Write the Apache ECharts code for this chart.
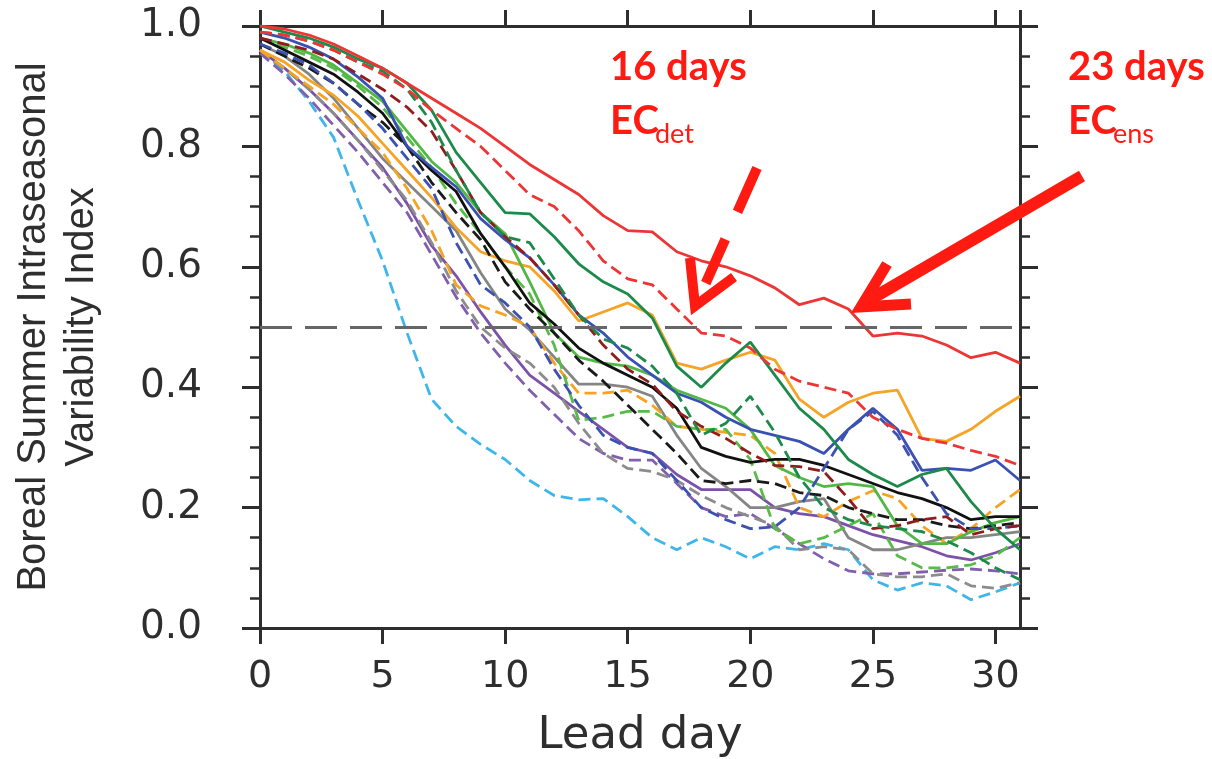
<!DOCTYPE html>
<html>
<head>
<meta charset="utf-8">
<script src="https://cdn.jsdelivr.net/npm/echarts@6/dist/echarts.min.js"></script>
<style>
  html, body { margin: 0; padding: 0; background: #fff; }
  #chart { width: 1212px; height: 759px; }
</style>
</head>
<body>
<div id="chart"></div>
<script>
/********** 数据 **********/
var leadDays = [0, 1, 2, 3, 4, 5, 6, 7, 8, 9, 10, 11, 12, 13, 14, 15,
                16, 17, 18, 19, 20, 21, 22, 23, 24, 25, 26, 27, 28, 29, 30, 31];

var yTicks = [0.0, 0.2, 0.4, 0.6, 0.8, 1.0];
var xTicks = [0, 5, 10, 15, 20, 25, 30];
var threshold = 0.5;

var ecEns = [1.0, 0.995, 0.985, 0.97, 0.95, 0.93, 0.905, 0.88, 0.855, 0.83, 0.80, 0.77, 0.745, 0.72, 0.685, 0.66,
             0.658, 0.625, 0.61, 0.60, 0.585, 0.565, 0.537, 0.548, 0.53, 0.485, 0.49, 0.485, 0.47, 0.449, 0.458, 0.44];
var ecDet = [0.99, 0.985, 0.975, 0.96, 0.94, 0.92, 0.895, 0.86, 0.83, 0.80, 0.76, 0.72, 0.70, 0.66, 0.61, 0.58,
             0.57, 0.53, 0.49, 0.485, 0.465, 0.43, 0.41, 0.40, 0.39, 0.35, 0.33, 0.315, 0.307, 0.295, 0.285, 0.27];
var dkGreenEns = [1.0, 0.99, 0.98, 0.965, 0.945, 0.93, 0.905, 0.86, 0.79, 0.74, 0.69, 0.688, 0.65, 0.605, 0.575, 0.555,
                  0.515, 0.435, 0.40, 0.44, 0.475, 0.42, 0.365, 0.33, 0.28, 0.255, 0.235, 0.255, 0.265, 0.21, 0.165, 0.13];
var dkGreenDet = [0.99, 0.985, 0.975, 0.96, 0.94, 0.925, 0.895, 0.84, 0.76, 0.69, 0.65, 0.64, 0.58, 0.52, 0.48, 0.465,
                  0.435, 0.39, 0.32, 0.34, 0.385, 0.325, 0.25, 0.2, 0.18, 0.17, 0.165, 0.16, 0.145, 0.125, 0.1, 0.08];
var brownDet = [0.98, 0.97, 0.96, 0.945, 0.92, 0.895, 0.865, 0.825, 0.76, 0.69, 0.65, 0.615, 0.57, 0.52, 0.47, 0.43,
                0.405, 0.36, 0.335, 0.315, 0.29, 0.27, 0.268, 0.26, 0.215, 0.165, 0.17, 0.18, 0.185, 0.155, 0.165, 0.17];
var blueEns = [0.99, 0.98, 0.965, 0.945, 0.915, 0.88, 0.80, 0.765, 0.733, 0.68, 0.645, 0.615, 0.57, 0.52, 0.49, 0.45,
               0.42, 0.39, 0.375, 0.35, 0.33, 0.32, 0.31, 0.29, 0.33, 0.365, 0.33, 0.262, 0.265, 0.262, 0.279, 0.245];
var blueDet = [0.97, 0.955, 0.935, 0.905, 0.87, 0.83, 0.78, 0.73, 0.64, 0.57, 0.54, 0.50, 0.43, 0.37, 0.32, 0.30,
               0.29, 0.245, 0.20, 0.18, 0.165, 0.168, 0.20, 0.265, 0.33, 0.36, 0.32, 0.25, 0.19, 0.165, 0.165, 0.17];
var blackEns = [0.98, 0.96, 0.94, 0.92, 0.89, 0.855, 0.80, 0.76, 0.725, 0.655, 0.60, 0.54, 0.505, 0.465, 0.44, 0.42,
                0.40, 0.365, 0.30, 0.285, 0.275, 0.28, 0.28, 0.27, 0.255, 0.24, 0.225, 0.215, 0.20, 0.18, 0.185, 0.185];
var blackDet = [0.97, 0.95, 0.93, 0.905, 0.87, 0.84, 0.80, 0.74, 0.69, 0.645, 0.575, 0.53, 0.49, 0.445, 0.41, 0.37,
                0.33, 0.29, 0.245, 0.24, 0.245, 0.24, 0.225, 0.22, 0.20, 0.19, 0.18, 0.18, 0.17, 0.165, 0.17, 0.175];
var orangeEns = [0.96, 0.94, 0.91, 0.885, 0.85, 0.805, 0.76, 0.715, 0.665, 0.625, 0.61, 0.60, 0.56, 0.51, 0.525, 0.54,
                 0.52, 0.44, 0.43, 0.445, 0.458, 0.445, 0.38, 0.35, 0.375, 0.39, 0.395, 0.315, 0.31, 0.33, 0.36, 0.385];
var orangeDet = [0.96, 0.93, 0.90, 0.87, 0.83, 0.79, 0.73, 0.66, 0.57, 0.535, 0.52, 0.50, 0.44, 0.39, 0.39, 0.395,
                 0.37, 0.335, 0.33, 0.325, 0.32, 0.29, 0.20, 0.185, 0.21, 0.228, 0.215, 0.17, 0.14, 0.165, 0.20, 0.23];
var greenEns = [0.98, 0.97, 0.955, 0.935, 0.905, 0.875, 0.825, 0.775, 0.74, 0.69, 0.655, 0.575, 0.49, 0.45, 0.44, 0.435,
                0.42, 0.395, 0.38, 0.365, 0.33, 0.27, 0.25, 0.235, 0.24, 0.235, 0.17, 0.14, 0.14, 0.16, 0.175, 0.185];
var greenDet = [0.98, 0.965, 0.95, 0.93, 0.90, 0.865, 0.815, 0.765, 0.705, 0.655, 0.60, 0.555, 0.47, 0.345, 0.35, 0.36,
                0.36, 0.335, 0.33, 0.33, 0.28, 0.165, 0.14, 0.15, 0.17, 0.19, 0.12, 0.10, 0.10, 0.105, 0.12, 0.15];
var grayEns = [0.97, 0.95, 0.92, 0.88, 0.83, 0.78, 0.74, 0.70, 0.66, 0.59, 0.53, 0.495, 0.45, 0.405, 0.405, 0.40,
               0.385, 0.32, 0.265, 0.235, 0.20, 0.20, 0.21, 0.215, 0.15, 0.13, 0.13, 0.14, 0.15, 0.15, 0.155, 0.16];
var grayDet = [0.96, 0.93, 0.895, 0.855, 0.81, 0.76, 0.71, 0.64, 0.56, 0.50, 0.465, 0.44, 0.40, 0.34, 0.29, 0.265,
               0.26, 0.245, 0.22, 0.20, 0.185, 0.17, 0.13, 0.135, 0.13, 0.09, 0.085, 0.085, 0.09, 0.07, 0.066, 0.075];
var purpleEns = [0.96, 0.93, 0.895, 0.855, 0.81, 0.765, 0.705, 0.635, 0.585, 0.525, 0.47, 0.42, 0.39, 0.36, 0.33, 0.30,
                 0.29, 0.255, 0.23, 0.23, 0.23, 0.20, 0.19, 0.185, 0.17, 0.155, 0.145, 0.135, 0.12, 0.113, 0.125, 0.14];
var purpleDet = [0.955, 0.92, 0.88, 0.835, 0.79, 0.74, 0.69, 0.62, 0.55, 0.49, 0.44, 0.395, 0.355, 0.315, 0.29, 0.279,
                 0.279, 0.24, 0.20, 0.185, 0.19, 0.165, 0.14, 0.115, 0.095, 0.09, 0.09, 0.093, 0.096, 0.098, 0.095, 0.09];
var cyanDet = [0.96, 0.925, 0.875, 0.815, 0.71, 0.61, 0.49, 0.38, 0.335, 0.305, 0.28, 0.245, 0.22, 0.213, 0.215, 0.185,
               0.15, 0.13, 0.15, 0.135, 0.115, 0.135, 0.13, 0.14, 0.13, 0.08, 0.063, 0.075, 0.07, 0.047, 0.06, 0.075];

// 线条: [数据, 颜色, 虚线?]
var lines = [
  [cyanDet, '#3fb6ea', true],
  [purpleDet, '#8060ad', true],
  [purpleEns, '#7c52a8', false],
  [grayDet, '#8c8c8c', true],
  [grayEns, '#858585', false],
  [orangeDet, '#f6a323', true],
  [orangeEns, '#f5a426', false],
  [greenDet, '#58bb48', true],
  [greenEns, '#52b845', false],
  [blackDet, '#1a1a1a', true],
  [blackEns, '#111111', false],
  [blueDet, '#3c52b0', true],
  [blueEns, '#3a50b3', false],
  [brownDet, '#8f1d1d', true],
  [dkGreenDet, '#1d8a4c', true],
  [dkGreenEns, '#1b8a4a', false],
  [ecDet, '#ee3535', true],
  [ecEns, '#ee3535', false]
];

/********** 图表 **********/
var myChart = echarts.init(document.getElementById('chart'));

var axisColor = '#2e2e2e';
var tickFont = 'DejaVu Sans';
var red = '#ff1a12';

var series = lines.map(function (l, i) {
  var s = {
    type: 'line',
    data: leadDays.map(function (d, k) { return [d, l[0][k]]; }),
    showSymbol: false,
    symbol: 'none',
    lineStyle: { color: l[1], width: 2.8, type: l[2] ? [12, 6] : 'solid' },
    z: 3
  };
  if (i === 0) {
    s.markLine = {
      silent: true,
      symbol: ['none', 'none'],
      label: { show: false },
      lineStyle: { color: '#666', width: 3, type: [32, 13] },
      data: [{ yAxis: threshold }]
    };
  }
  return s;
});

function xAx(pos, labels) {
  return {
    type: 'value', position: pos, min: 0, max: 31, interval: 5,
    axisLine: { show: true, onZero: false, lineStyle: { color: axisColor, width: 3 } },
    axisTick: { show: true, length: 16, lineStyle: { color: axisColor, width: 3 } },
    axisLabel: {
      show: labels, margin: 30, fontSize: 38, fontFamily: tickFont, color: axisColor,
      showMaxLabel: false,
      formatter: function (v) { return xTicks.indexOf(v) >= 0 ? String(v) : ''; }
    },
    splitLine: { show: false },
    name: labels ? 'Lead day' : '',
    nameLocation: 'middle', nameGap: 86,
    nameTextStyle: { fontSize: 45, fontFamily: tickFont, color: axisColor }
  };
}
function yAx(pos, labels) {
  return {
    type: 'value', position: pos, min: 0, max: 1, interval: 0.2,
    axisLine: { show: true, onZero: false, lineStyle: { color: axisColor, width: 3 } },
    axisTick: { show: true, length: 18, lineStyle: { color: axisColor, width: 3 } },
    minorTick: { show: true, splitNumber: 4, length: 10, lineStyle: { color: axisColor, width: 2.5 } },
    axisLabel: {
      show: labels, margin: 58, fontSize: 39, fontFamily: tickFont, color: axisColor,
      formatter: function (v) {
        for (var i = 0; i < yTicks.length; i++) {
          if (Math.abs(yTicks[i] - v) < 1e-6) return yTicks[i].toFixed(1);
        }
        return '';
      }
    },
    splitLine: { show: false }
  };
}

var option = {
  backgroundColor: '#fff',
  animation: false,
  grid: { left: 260, right: 192, top: 26, bottom: 131, containLabel: false, outerBoundsMode: 'none' },
  xAxis: [xAx('bottom', true), xAx('top', false)],
  yAxis: [yAx('left', true), yAx('right', false)],
  series: series,
  graphic: [
    {
      type: 'text', x: 58, y: 327, rotation: Math.PI / 2, z: 10,
      style: {
        text: 'Boreal Summer Intraseasonal\nVariability Index',
        fontSize: 40, fontFamily: 'Liberation Sans', fill: axisColor,
        align: 'center', verticalAlign: 'middle', lineHeight: 48
      }
    },
    // 16 days EC_det
    { type: 'text', x: 610, y: 67, z: 10, style: { text: '16 days', fontSize: 40, fontWeight: 'bold', fontFamily: 'Lato', fill: red, verticalAlign: 'middle' } },
    { type: 'text', x: 610, y: 121, z: 10, style: { text: 'EC', fontSize: 40, fontWeight: 'bold', fontFamily: 'Lato', fill: red, verticalAlign: 'middle' } },
    { type: 'text', x: 655, y: 134, z: 10, style: { text: 'det', fontSize: 27, fontFamily: 'Lato', fill: red, verticalAlign: 'middle' } },
    // 23 days EC_ens
    { type: 'text', x: 1068, y: 67, z: 10, style: { text: '23 days', fontSize: 40, fontWeight: 'bold', fontFamily: 'Lato', fill: red, verticalAlign: 'middle' } },
    { type: 'text', x: 1068, y: 121, z: 10, style: { text: 'EC', fontSize: 40, fontWeight: 'bold', fontFamily: 'Lato', fill: red, verticalAlign: 'middle' } },
    { type: 'text', x: 1113, y: 134, z: 10, style: { text: 'ens', fontSize: 27, fontFamily: 'Lato', fill: red, verticalAlign: 'middle' } },
    // arrows
    { type: 'line', z: 10, shape: { x1: 757, y1: 168, x2: 700, y2: 296 }, style: { stroke: red, lineWidth: 10, lineDash: [48, 30] } },
    { type: 'polyline', z: 10, shape: { points: [[690, 258], [695, 306], [734, 277]] }, style: { stroke: red, lineWidth: 10, fill: null } },
    { type: 'line', z: 10, shape: { x1: 1082, y1: 176, x2: 866, y2: 302 }, style: { stroke: red, lineWidth: 12 } },
    { type: 'polyline', z: 10, shape: { points: [[887, 264], [861, 307], [911, 304]] }, style: { stroke: red, lineWidth: 11, fill: null } }
  ]
};

myChart.setOption(option);
</script>
</body>
</html>
